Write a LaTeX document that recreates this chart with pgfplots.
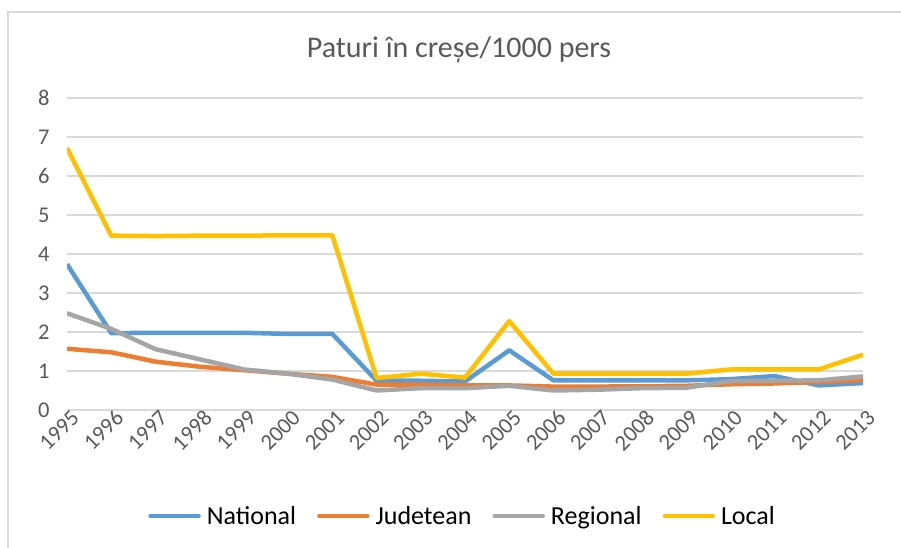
\documentclass[border=0pt]{standalone}
\usepackage{pgfplots}
\pgfplotsset{compat=1.18}
\usepackage{fontspec}
\setmainfont{Carlito}
\definecolor{cblue}{HTML}{5B9BD5}
\definecolor{corange}{HTML}{ED7D31}
\definecolor{cgray}{HTML}{A5A5A5}
\definecolor{cgold}{HTML}{FFC000}
\definecolor{gridc}{HTML}{D9D9D9}
\definecolor{txt}{HTML}{595959}
\begin{document}
\begin{tikzpicture}[x=1pt,y=1pt]
\draw[gridc, line width=1.5pt] (8,-10) -- (8,536) -- (910,536);
\node[text=txt, font=\fontsize{30}{34}\selectfont] at (459,498) {Paturi în creșe/1000 pers};
\begin{axis}[
  at={(67pt,138pt)}, anchor=south west,
  scale only axis, width=796pt, height=312pt,
  xmin=1995, xmax=2013, ymin=0, ymax=8,
  xtick={1995,...,2013}, ytick={0,...,8},
  axis line style={draw=none},
  major tick length=0pt,
  ymajorgrids, grid style={gridc, line width=1.5pt},
  /pgf/number format/assume math mode=true,
  /pgf/number format/1000 sep={},
  tick label style={text=txt, font=\fontsize{22.5}{26}\selectfont},
  yticklabel style={xshift=-14pt},
  xticklabel style={rotate=45, anchor=east, xshift=3pt, yshift=-9pt, inner sep=0pt},
  legend style={at={(0.497,-0.34)}, anchor=center, draw=none, fill=none,
    font=\fontsize{26}{30}\selectfont, legend columns=4,
    /tikz/every odd column/.append style={column sep=4pt},
    /tikz/every even column/.append style={column sep=19pt}},
  legend image code/.code={\draw[#1, line width=4.5pt, line cap=round] (0pt,0pt) -- (48pt,0pt);},
  every axis plot/.append style={line width=4.5pt, line join=round},
]
\addplot[cblue] coordinates {(1995,3.74)(1996,1.97)(1997,1.98)(1998,1.98)(1999,1.98)(2000,1.95)(2001,1.95)(2002,0.75)(2003,0.75)(2004,0.73)(2005,1.53)(2006,0.76)(2007,0.76)(2008,0.76)(2009,0.76)(2010,0.79)(2011,0.87)(2012,0.63)(2013,0.69)};
\addlegendentry{National}
\addplot[corange] coordinates {(1995,1.57)(1996,1.48)(1997,1.24)(1998,1.11)(1999,1.02)(2000,0.93)(2001,0.85)(2002,0.65)(2003,0.65)(2004,0.63)(2005,0.63)(2006,0.60)(2007,0.60)(2008,0.61)(2009,0.62)(2010,0.66)(2011,0.68)(2012,0.72)(2013,0.77)};
\addlegendentry{Judetean}
\addplot[cgray] coordinates {(1995,2.48)(1996,2.08)(1997,1.56)(1998,1.30)(1999,1.04)(2000,0.93)(2001,0.78)(2002,0.50)(2003,0.56)(2004,0.56)(2005,0.62)(2006,0.50)(2007,0.52)(2008,0.56)(2009,0.57)(2010,0.74)(2011,0.75)(2012,0.76)(2013,0.86)};
\addlegendentry{Regional}
\addplot[cgold] coordinates {(1995,6.72)(1996,4.47)(1997,4.46)(1998,4.47)(1999,4.47)(2000,4.48)(2001,4.48)(2002,0.82)(2003,0.93)(2004,0.83)(2005,2.28)(2006,0.93)(2007,0.93)(2008,0.93)(2009,0.93)(2010,1.04)(2011,1.04)(2012,1.04)(2013,1.42)};
\addlegendentry{Local}
\end{axis}
\pgfresetboundingbox
\path[use as bounding box] (0,0) rectangle (901,548);
\end{tikzpicture}
\end{document}
